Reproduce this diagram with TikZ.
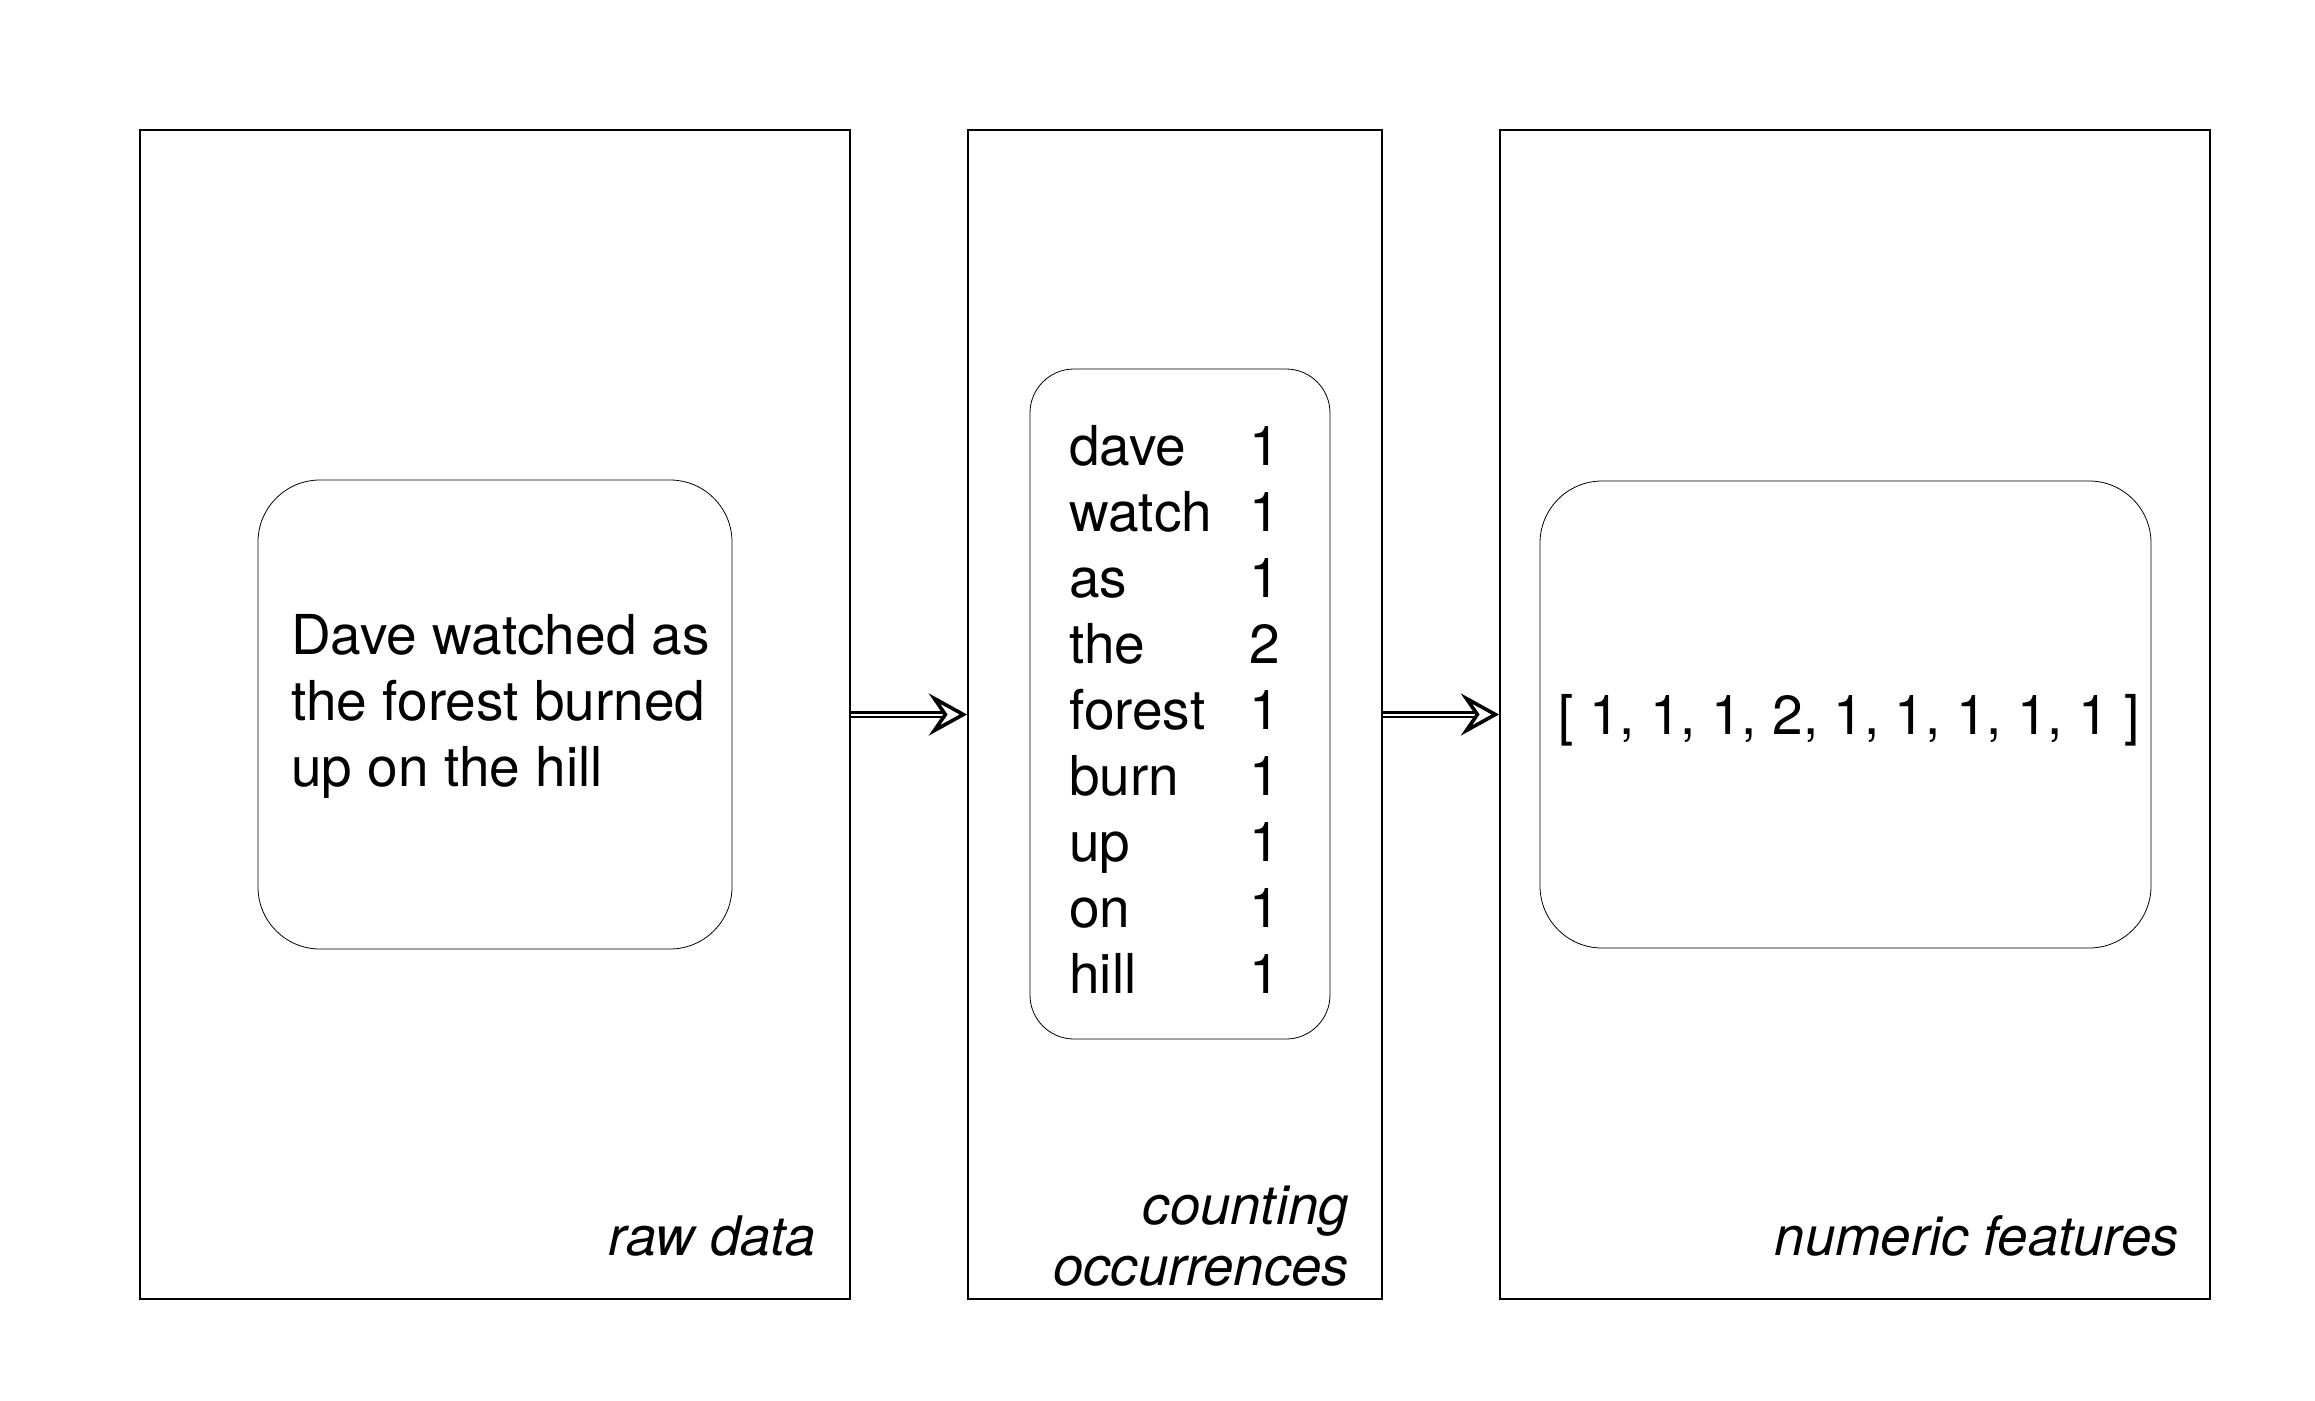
\documentclass[tikz,border=0pt]{standalone}
\usepackage{fontspec}
\setmainfont{TeX Gyre Heros}
\begin{document}
\begin{tikzpicture}[x=1pt,y=-1pt,
  panel/.style={draw, line width=1.3pt, rectangle, inner sep=0pt},
  card/.style={draw, line width=0.8pt, rectangle, rounded corners=#1, inner sep=0pt},
  txt/.style={inner sep=0pt, font=\fontsize{55}{66}\selectfont},
  lbl/.style={inner sep=0pt, font=\fontsize{54.5}{61}\selectfont\itshape},
  shaft/.style={double, double distance=2pt, line width=2.7pt},
  arrowhead/.style={line width=3.6pt, line join=miter, fill=white}
]
\useasboundingbox (0,0) rectangle (2315,1400);
% outer panels
\node[panel, minimum width=710pt, minimum height=1169pt] (p1) at (495,714.5) {};
\node[panel, minimum width=414pt, minimum height=1169pt] (p2) at (1175,714.5) {};
\node[panel, minimum width=710pt, minimum height=1169pt] (p3) at (1855,714.5) {};
% inner rounded cards
\node[card=62pt, minimum width=474pt, minimum height=469pt] (c1) at (495,714.5) {};
\node[card=44pt, minimum width=300pt, minimum height=670pt] (c2) at (1180,704) {};
\node[card=62pt, minimum width=611pt, minimum height=467pt] (c3) at (1845.5,714.5) {};
% texts
\node[txt, anchor=base west] (t1) at (291,654)
  {\begin{tabular}[t]{@{}l@{}}Dave watched as\\the forest burned\\up on the hill\end{tabular}};
\node[txt, anchor=base west] (t2) at (1069,465)
  {\begin{tabular}[t]{@{}p{180pt}@{}l@{}}dave&1\\watch&1\\as&1\\the&2\\forest&1\\burn&1\\up&1\\on&1\\hill&1\end{tabular}};
\node[txt, anchor=base] (t3) at (1849,734) {[ 1, 1, 1, 2, 1, 1, 1, 1, 1 ]};
% labels
\node[lbl, anchor=base east] (l1) at (816,1255) {raw data};
\node[lbl, anchor=base east] (l2) at (1349,1224)
  {\begin{tabular}[t]{@{}r@{}}counting\\occurrences\end{tabular}};
\node[lbl, anchor=base east] (l3) at (2179,1255) {numeric features};
% arrows
\draw[shaft] (p1.east) -- ([xshift=-20pt]p2.west);
\draw[arrowhead] ([shift={(-33,-16)}]p2.west) -- ([xshift=-4pt]p2.west)
  -- ([shift={(-33,16)}]p2.west) -- ([xshift=-22pt]p2.west) -- cycle;
\draw[shaft] (p2.east) -- ([xshift=-20pt]p3.west);
\draw[arrowhead] ([shift={(-33,-16)}]p3.west) -- ([xshift=-4pt]p3.west)
  -- ([shift={(-33,16)}]p3.west) -- ([xshift=-22pt]p3.west) -- cycle;
\end{tikzpicture}
\end{document}
